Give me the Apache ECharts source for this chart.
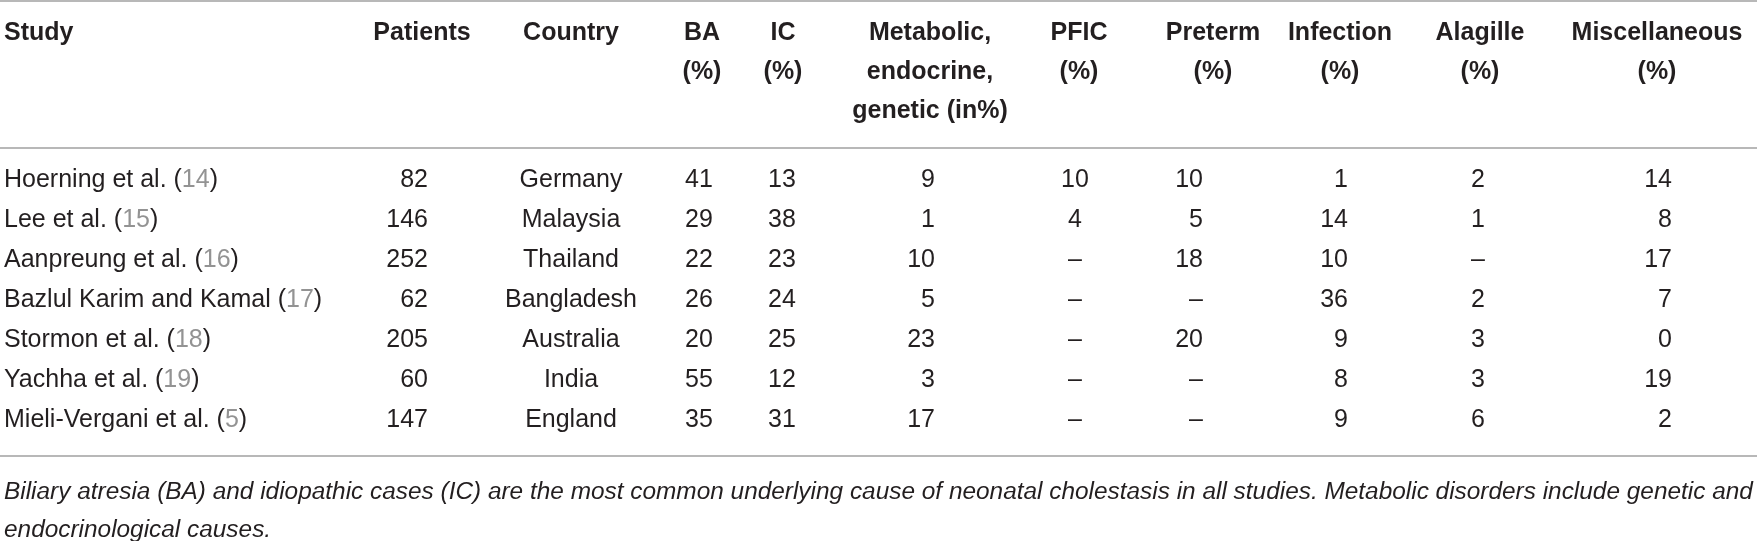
<!DOCTYPE html>
<html>
<head>
<meta charset="utf-8">
<title>Neonatal cholestasis – causes by study</title>
<script src="https://cdn.jsdelivr.net/npm/echarts@6/dist/echarts.min.js"></script>
<style>
  html, body { margin: 0; padding: 0; background: #fff; }
  #main { width: 1757px; height: 541px; }
</style>
</head>
<body>
<div id="main"></div>
<script>
// table data, one array per column
var headers = [
    ['Study'], ['Patients'], ['Country'], ['BA', '(%)'], ['IC', '(%)'],
    ['Metabolic,', 'endocrine,', 'genetic (in%)'], ['PFIC', '(%)'], ['Preterm', '(%)'],
    ['Infection', '(%)'], ['Alagille', '(%)'], ['Miscellaneous', '(%)']
];
var studies = ['Hoerning et al.', 'Lee et al.', 'Aanpreung et al.', 'Bazlul Karim and Kamal',
    'Stormon et al.', 'Yachha et al.', 'Mieli-Vergani et al.'];
var refs = [14, 15, 16, 17, 18, 19, 5];
var patients = [82, 146, 252, 62, 205, 60, 147];
var countries = ['Germany', 'Malaysia', 'Thailand', 'Bangladesh', 'Australia', 'India', 'England'];
var ba = [41, 29, 22, 26, 20, 55, 35];
var ic = [13, 38, 23, 24, 25, 12, 31];
var metabolic = [9, 1, 10, 5, 23, 3, 17];
var pfic = [10, 4, null, null, null, null, null];
var preterm = [10, 5, 18, null, 20, null, null];
var infection = [1, 14, 10, 36, 9, 8, 9];
var alagille = [2, 1, null, 2, 3, 3, 6];
var misc = [14, 8, 17, 7, 0, 19, 2];
var footnote = 'Biliary atresia (BA) and idiopathic cases (IC) are the most common underlying cause of neonatal cholestasis in all studies. Metabolic disorders include genetic and\nendocrinological causes.';

var columns = [studies, patients, countries, ba, ic, metabolic, pfic, preterm, infection, alagille, misc];

// layout: anchor of each column on a 0..1757 x scale, and its alignment
var colX = [4, 428, 571, 699, 782, 935, 1075, 1203, 1348, 1478, 1672];
var colAlign = ['left', 'right', 'center', 'center', 'center', 'right', 'center', 'right', 'right', 'center', 'right'];
var headX = [4, 422, 571, 702, 783, 930, 1079, 1213, 1340, 1480, 1657];

var textColor = '#231f20';
var ruleColor = '#b8b8b8';
var bodyFont = '25px "Liberation Sans", Arial, sans-serif';
var headFont = 'bold 25px "Liberation Sans", Arial, sans-serif';

var cells = [];
columns.forEach(function (col, c) {
    col.forEach(function (v, r) { cells.push([c, r]); });
});
var headCells = [];
headers.forEach(function (lines, c) {
    lines.forEach(function (t, l) { headCells.push([c, l]); });
});

function cellText(c, r) {
    if (c === 0) return '{a|' + studies[r] + ' (}{g|' + refs[r] + '}{a|)}';
    var v = columns[c][r];
    return v === null ? '\u2013' : String(v);
}

var myChart = echarts.init(document.getElementById('main'));

var hiddenAxis = {
    axisLabel: { show: false }, axisTick: { show: false }, splitLine: { show: false }
};
var rule = { show: true, onZero: false, lineStyle: { color: ruleColor, width: 2 } };

option = {
    animation: false,
    backgroundColor: '#fff',
    title: {
        text: footnote,
        left: 4,
        top: 473,
        padding: 0,
        textStyle: {
            fontFamily: '"Liberation Sans", Arial, sans-serif',
            fontStyle: 'italic',
            fontWeight: 'normal',
            fontSize: 24.4,
            lineHeight: 38,
            color: textColor
        }
    },
    grid: [
        { left: 0, right: 0, top: 1, height: 147 },
        { left: 0, right: 0, top: 148, height: 308 }
    ],
    xAxis: [
        Object.assign({ gridIndex: 0, type: 'value', min: 0, max: 1757, position: 'top', axisLine: rule }, hiddenAxis),
        Object.assign({ gridIndex: 1, type: 'value', min: 0, max: 1757, position: 'top', axisLine: rule }, hiddenAxis),
        Object.assign({ gridIndex: 1, type: 'value', min: 0, max: 1757, position: 'bottom', axisLine: rule }, hiddenAxis)
    ],
    yAxis: [
        Object.assign({ gridIndex: 0, type: 'value', min: -0.82, max: 2.95, inverse: true,
            axisLine: { show: false } }, hiddenAxis),
        Object.assign({ gridIndex: 1, type: 'value', min: -0.8, max: 6.9, inverse: true,
            axisLine: { show: false } }, hiddenAxis)
    ],
    series: [
        {
            name: 'header',
            type: 'custom',
            xAxisIndex: 0,
            yAxisIndex: 0,
            data: headCells,
            renderItem: function (params, api) {
                var c = api.value(0), l = api.value(1);
                var p = api.coord([headX[c], l]);
                return {
                    type: 'text',
                    x: p[0], y: p[1],
                    style: {
                        text: headers[c][l],
                        font: headFont,
                        fill: textColor,
                        textAlign: c === 0 ? 'left' : 'center',
                        textVerticalAlign: 'middle'
                    }
                };
            }
        },
        {
            name: 'body',
            type: 'custom',
            xAxisIndex: 1,
            yAxisIndex: 1,
            data: cells,
            renderItem: function (params, api) {
                var c = api.value(0), r = api.value(1);
                var p = api.coord([colX[c], r]);
                return {
                    type: 'text',
                    x: p[0], y: p[1],
                    style: {
                        text: cellText(c, r),
                        font: bodyFont,
                        fill: textColor,
                        textAlign: colAlign[c],
                        textVerticalAlign: 'middle',
                        rich: {
                            a: { font: bodyFont, fill: textColor },
                            g: { font: bodyFont, fill: '#939393' }
                        }
                    }
                };
            }
        }
    ]
};
myChart.setOption(option);
window.addEventListener('resize', () => {
    myChart.resize();
});
</script>
</body>
</html>
